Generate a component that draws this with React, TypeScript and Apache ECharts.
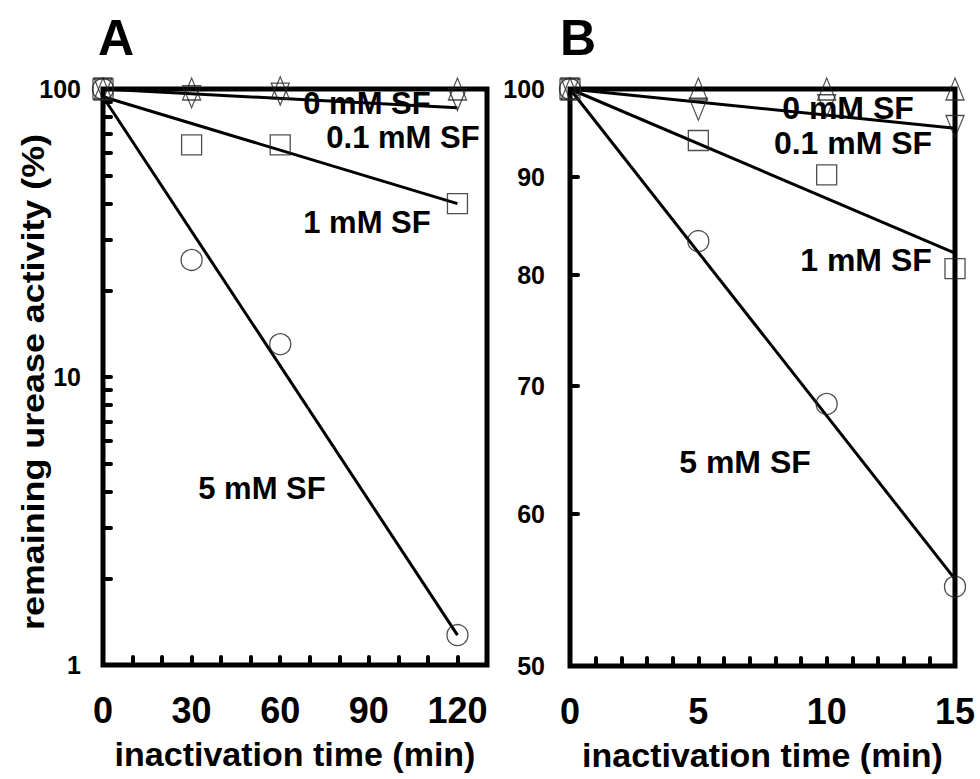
import React, { useEffect, useRef } from "react";
import * as echarts from "echarts";

// ---------- Panel A data (log scale, 1-100 %) ----------
const timesA = [0, 30, 60, 120];
const sf0A = [100, 100, 101, 100];
const sf01A = [100, 94, 96, 92];
const sf1A = [100, 64, 64, 40];
const sf5A = [100, 25.5, 13, 1.27];
const fitTimesA = [0, 120];
const fit0A = [100, 100];
const fit01A = [100, 86];
const fit1A = [94, 40];
const fit5A = [94, 1.27];

// ---------- Panel B data (log scale, 50-100 %) ----------
const timesB = [0, 5, 10, 15];
const sf0B = [100, 100, 100, 100];
const sf01B = [100, 97.6, 98, 95.6];
const sf1B = [100, 94, 90.2, 80.6];
const sf5B = [100, 83.3, 68.5, 55];
const fitTimesB = [0, 15];
const fit0B = [100, 100];
const fit01B = [100, 95.4];
const fit1B = [100, 82.1];
const fit5B = [100, 55.5];

// ---------- Tick labels ----------
const xLabelsA = [0, 30, 60, 90, 120];
const xTicksA = [10, 20, 30, 40, 50, 60, 70, 80, 90, 100, 110, 120];
const yLabelsA = [1, 10, 100];
const yTicksA = [2, 3, 4, 5, 6, 7, 8, 9, 10, 20, 30, 40, 50, 60, 70, 80, 90];
const xLabelsB = [0, 5, 10, 15];
const xTicksB = [1, 2, 3, 4, 5, 6, 7, 8, 9, 10, 11, 12, 13, 14];
const yLabelsB = [50, 60, 70, 80, 90, 100];
const yTicksB = [60, 70, 80, 90];

const seriesNames = ["0 mM SF", "0.1 mM SF", "1 mM SF", "5 mM SF"];
const panelNames = ["A", "B"];
const xTitle = "inactivation time (min)";
const yTitle = "remaining urease activity (%)";

const FONT = '"Liberation Sans", Arial, Helvetica, sans-serif';

function pairs(xs: number[], ys: number[]) {
  return xs.map((x, i) => [x, ys[i]]);
}

export default function App() {
  const ref = useRef<HTMLDivElement>(null);
  useEffect(() => {
    if (!ref.current) return;
    const chart = echarts.init(ref.current, undefined, { renderer: "svg" });

    const markerStyle = {
      color: "rgba(0,0,0,0)",
      borderColor: "#222",
      borderWidth: 1.3,
    };
    const scatter = (name: string, gi: number, xs: number[], ys: number[], symbol: string, size: any, rotate = 0) => ({
      name,
      type: "scatter",
      xAxisIndex: gi,
      yAxisIndex: gi,
      data: pairs(xs, ys),
      symbol,
      symbolSize: size,
      symbolRotate: rotate,
      itemStyle: markerStyle,
      clip: false,
      z: 3,
      silent: true,
    });
    const fit = (name: string, gi: number, xs: number[], ys: number[]) => ({
      name: name + " fit",
      type: "line",
      xAxisIndex: gi,
      yAxisIndex: gi,
      data: pairs(xs, ys),
      showSymbol: false,
      symbol: "none",
      lineStyle: { color: "#000", width: 3 },
      clip: false,
      z: 2,
      silent: true,
    });

    const tri: [number, number] = [18, 22];
    const sq = 20;
    const circ = 21;

    const xAxisCommon = (gi: number, max: number, labels: number[], ticks: number[]) => ({
      type: "value",
      gridIndex: gi,
      min: 0,
      max,
      splitLine: { show: false },
      axisLine: { show: false },
      axisTick: {
        show: true,
        inside: true,
        length: 8,
        customValues: ticks,
        lineStyle: { color: "#000", width: 4, cap: "round" },
      },
      axisLabel: {
        customValues: labels,
        margin: 27,
        fontSize: 36,
        fontWeight: "bold",
        fontFamily: FONT,
        color: "#000",
      },
      name: xTitle,
      nameLocation: "middle",
      nameGap: 72,
      nameTextStyle: { fontSize: 34, fontWeight: "bold", fontFamily: FONT, color: "#000" },
    });

    const yAxisCommon = (gi: number, min: number, max: number, labels: number[], ticks: number[], margin: number) => ({
      type: "log",
      logBase: 10,
      gridIndex: gi,
      min,
      max,
      splitLine: { show: false },
      minorSplitLine: { show: false },
      axisLine: { show: false },
      axisTick: {
        show: true,
        inside: true,
        length: 8,
        customValues: ticks,
        lineStyle: { color: "#000", width: 4, cap: "round" },
      },
      axisLabel: {
        customValues: labels,
        margin,
        fontSize: 25,
        fontWeight: "bold",
        fontFamily: FONT,
        color: "#000",
      },
    });

    const txt = (text: string, x: number, y: number, size = 31) => ({
      type: "text",
      x,
      y,
      z: 10,
      style: { text, font: `bold ${size}px ${FONT}`, fill: "#000", align: "center", verticalAlign: "middle" },
    });

    chart.setOption({
      animation: false,
      backgroundColor: "#fff",
      grid: [
        { left: 103, top: 89, width: 384, height: 576, show: true, borderColor: "#000", borderWidth: 5, backgroundColor: "rgba(0,0,0,0)" },
        { left: 570, top: 89, width: 385, height: 577, show: true, borderColor: "#000", borderWidth: 5, backgroundColor: "rgba(0,0,0,0)" },
      ],
      xAxis: [xAxisCommon(0, 130, xLabelsA, xTicksA), xAxisCommon(1, 15, xLabelsB, xTicksB)],
      yAxis: [
        yAxisCommon(0, 1, 100, yLabelsA, yTicksA, 22),
        yAxisCommon(1, 50, 100, yLabelsB, yTicksB, 25),
      ],
      series: [
        fit(seriesNames[0], 0, fitTimesA, fit0A),
        fit(seriesNames[1], 0, fitTimesA, fit01A),
        fit(seriesNames[2], 0, fitTimesA, fit1A),
        fit(seriesNames[3], 0, fitTimesA, fit5A),
        scatter(seriesNames[0], 0, timesA, sf0A, "triangle", tri),
        scatter(seriesNames[1], 0, timesA, sf01A, "triangle", tri, 180),
        scatter(seriesNames[2], 0, timesA, sf1A, "rect", sq),
        scatter(seriesNames[3], 0, timesA, sf5A, "circle", circ),
        fit(seriesNames[0], 1, fitTimesB, fit0B),
        fit(seriesNames[1], 1, fitTimesB, fit01B),
        fit(seriesNames[2], 1, fitTimesB, fit1B),
        fit(seriesNames[3], 1, fitTimesB, fit5B),
        scatter(seriesNames[0], 1, timesB, sf0B, "triangle", tri),
        scatter(seriesNames[1], 1, timesB, sf01B, "triangle", tri, 180),
        scatter(seriesNames[2], 1, timesB, sf1B, "rect", sq),
        scatter(seriesNames[3], 1, timesB, sf5B, "circle", circ),
      ],
      graphic: [
        txt(panelNames[0], 116, 38, 50),
        txt(panelNames[1], 578, 38, 50),
        {
          type: "text",
          x: 33,
          y: 382,
          rotation: Math.PI / 2,
          scaleX: 1.12,
          z: 10,
          style: { text: yTitle, font: `bold 32px ${FONT}`, fill: "#000", align: "center", verticalAlign: "middle" },
        },
        txt(seriesNames[0], 367, 103),
        txt(seriesNames[1], 403, 137),
        txt(seriesNames[2], 367, 222),
        txt(seriesNames[3], 262, 488),
        txt(seriesNames[0], 848, 108, 32),
        txt(seriesNames[1], 853, 143, 32),
        txt(seriesNames[2], 866, 260, 32),
        txt(seriesNames[3], 745, 462, 32),
      ],
    });

    return () => chart.dispose();
  }, []);

  return (
    <div
      ref={ref}
      style={{ position: "absolute", left: 0, top: 0, width: 980, height: 779, background: "#fff" }}
    />
  );
}
